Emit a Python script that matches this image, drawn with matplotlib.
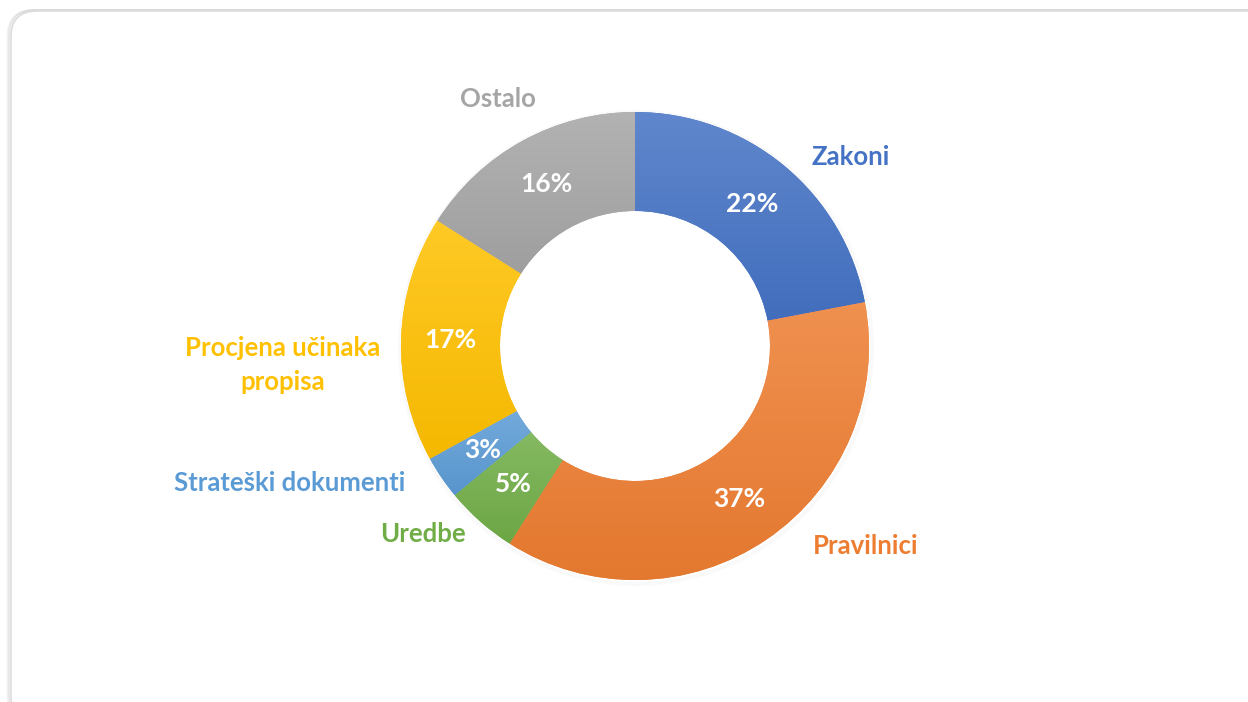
import matplotlib.pyplot as plt
import matplotlib.colors as mcolors
from matplotlib.patches import FancyBboxPatch
import numpy as np

plt.rcParams['font.family'] = ['Lato', 'DejaVu Sans']

# data
categories = ['Zakoni', 'Pravilnici', 'Uredbe', 'Strateški dokumenti',
              'Procjena učinaka\npropisa', 'Ostalo']
values = [22, 37, 5, 3, 17, 16]
colors = ['#4472C4', '#ED7D31', '#70AD47', '#5B9BD5', '#FFC000', '#A5A5A5']

# layout (pixels, y measured from top)
W, H = 1248, 702
cx, cy = 635, 346
R_OUT, R_IN = 234, 135
label_xy = [(851, 157), (866, 546), (423, 534), (290, 483), (283, 365), (498, 99)]


def shade(c, f):
    rgb = np.array(mcolors.to_rgb(c))
    if f > 0:
        rgb = rgb + (1 - rgb) * f
    else:
        rgb = rgb * (1 + f)
    return np.clip(rgb, 0, 1)


fig = plt.figure(figsize=(W / 100, H / 100), dpi=100)
ax = fig.add_axes([0, 0, 1, 1])

# card frame with a soft shadow on the left
for k in range(4):
    sh = FancyBboxPatch((10 - k * 0.8, -20), W + 30, H - 10 + 20, boxstyle='round,pad=0,rounding_size=26',
                        facecolor='none', edgecolor='#000000', alpha=0.035, lw=1.5)
    ax.add_patch(sh)
card = FancyBboxPatch((11, -20), W + 30, H - 11 + 20, boxstyle='round,pad=0,rounding_size=26',
                      facecolor='white', edgecolor='#D9D9D9', lw=1.0)
ax.add_patch(card)

# faint shadow behind the ring
for k in range(4):
    ring = plt.Circle((cx + 1, H - cy - 2), R_OUT + 0.5 + k, facecolor='none',
                      edgecolor='black', lw=1.0, alpha=0.015)
    ax.add_patch(ring)

wedges, texts, autotexts = ax.pie(
    values, radius=R_OUT, center=(cx, H - cy), startangle=90, counterclock=False,
    colors=colors, wedgeprops=dict(width=R_OUT - R_IN, edgecolor='none'),
    autopct=lambda p: f'{p:.0f}%', pctdistance=(R_OUT + R_IN) / 2 / R_OUT,
    frame=True, textprops=dict(color='white', fontsize=19, fontweight='bold'))

# vertical gradient on each slice
for w, c in zip(wedges, colors):
    bb = w.get_path().get_extents()
    top, bot = shade(c, 0.15), shade(c, -0.04)
    t = np.linspace(0, 1, 256)[:, None]
    grad = (bot[None, :] * (1 - t) + top[None, :] * t)[:, None, :]
    im = ax.imshow(grad, extent=(bb.x0, bb.x1, bb.y0, bb.y1), origin='lower',
                   aspect='auto', interpolation='bilinear', zorder=w.get_zorder())
    im.set_clip_path(w)

for t in autotexts:
    t.set_zorder(5)

for name, c, (x, y) in zip(categories, colors, label_xy):
    ax.text(x, H - y, name, color=c, fontsize=18.5, fontweight='bold',
            ha='center', va='center', linespacing=1.45, zorder=5)

ax.set_xlim(0, W)
ax.set_ylim(0, H)
ax.set_aspect('equal')
ax.axis('off')

fig.savefig('out.png', dpi=100, facecolor='white')
